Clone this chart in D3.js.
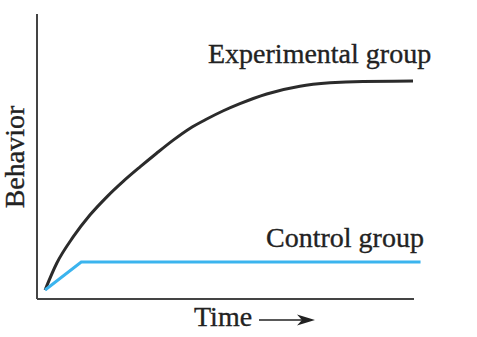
<!DOCTYPE html>
<html>
<head>
<meta charset="utf-8">
<script src="https://cdn.jsdelivr.net/npm/d3@7"></script>
<style>
  body { margin: 0; background: #fff; }
  text { font-family: "Liberation Serif", "Times New Roman", serif; fill: #222; stroke: #222; stroke-width: 0.35px; }
</style>
</head>
<body>
<div id="chart"></div>
<script>
const width = 477
const height = 337

// values (time, behavior), both on a 0-100 scale
const experimentalTime = [2.4, 5.5, 9.9, 14.3, 18.8, 23.2, 27.6, 32, 36.4, 40.8, 45.3, 49.7, 54.1, 61.2, 70, 78, 86.7, 100]
const experimentalBehavior = [2.8, 12.2, 21.5, 29.1, 35.5, 41, 46, 50.8, 55.4, 59.5, 62.8, 65.7, 68.2, 71.6, 74.3, 75.5, 76, 76.1]
const controlTime = [2.4, 12, 102]
const controlBehavior = [2.8, 12.6, 12.6]

const labels = {
    experimental: "Experimental group",
    control: "Control group",
    x: "Time",
    y: "Behavior"
}

const svg = d3.select('#chart').append('svg')
    .attr('width', width)
    .attr('height', height)

/*
 * scales
 */
const xScale = d3.scaleLinear()
    .domain([0, 100])
    .range([36, 413])

const yScale = d3.scaleLinear()
    .domain([0, 100])
    .range([298, 13])

/*
 * axes, no ticks, just the lines
 */
const xAxis = d3.axisBottom(xScale).ticks(0).tickSizeOuter(0)
const yAxis = d3.axisLeft(yScale).ticks(0).tickSizeOuter(0)

svg.append('g')
    .attr('class', 'x axis')
    .attr('transform', `translate(0, ${yScale(0)})`)
    .call(xAxis)

svg.append('g')
    .attr('class', 'y axis')
    .attr('transform', `translate(${xScale(0)}, 0)`)
    .call(yAxis)

svg.selectAll('.axis path')
    .style('stroke', '#444')
    .style('stroke-width', 2)
    .style('shape-rendering', 'crispEdges')

/*
 * lines
 */
const line = d3.line()
    .x(d => xScale(d[0]))
    .y(d => yScale(d[1]))

const experimental = experimentalTime.map((t, i) => [t, experimentalBehavior[i]])
const control = controlTime.map((t, i) => [t, controlBehavior[i]])

svg.append('path')
    .datum(experimental)
    .style('stroke', '#2b2b2b')
    .style('stroke-width', 3)
    .style('fill', 'none')
    .attr('d', line.curve(d3.curveMonotoneX))

svg.append('path')
    .datum(control)
    .style('stroke', '#3bb4ee')
    .style('stroke-width', 3)
    .style('fill', 'none')
    .attr('d', line.curve(d3.curveLinear))

/*
 * labels
 */
svg.append('text')
    .attr('x', 208)
    .attr('y', 63)
    .style('font-size', '28px')
    .text(labels.experimental)

svg.append('text')
    .attr('x', 266)
    .attr('y', 247)
    .style('font-size', '28px')
    .text(labels.control)

svg.append('text')
    .attr('x', 194)
    .attr('y', 326)
    .style('font-size', '28px')
    .text(labels.x)

svg.append('text')
    .attr('transform', 'translate(24, 157) rotate(-90)')
    .attr('text-anchor', 'middle')
    .style('font-size', '28px')
    .text(labels.y)

// arrow after "Time"
svg.append('line')
    .attr('x1', 259).attr('x2', 302)
    .attr('y1', 320).attr('y2', 320)
    .style('stroke', '#222')
    .style('stroke-width', 1.5)

svg.append('path')
    .attr('d', 'M315,320 L297,314.5 L302,320 L297,325.5 Z')
    .style('fill', '#222')
</script>
</body>
</html>
